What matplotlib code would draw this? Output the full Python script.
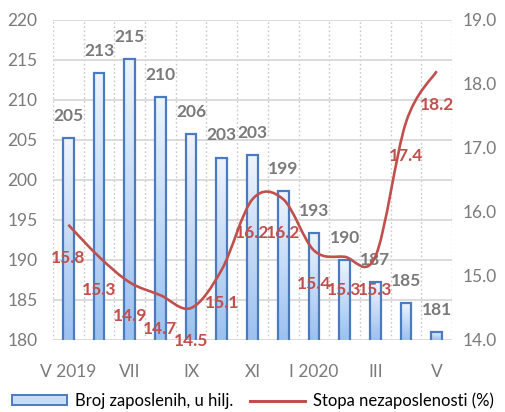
import numpy as np
import matplotlib.pyplot as plt
from matplotlib.path import Path
from matplotlib.patches import PathPatch, Patch
from matplotlib.lines import Line2D
from matplotlib.colors import LinearSegmentedColormap

plt.rcParams['font.family'] = ['Lato', 'DejaVu Sans']

months = ['V 2019', '', 'VII', '', 'IX', '', 'XI', '', 'I 2020', '', 'III', '', 'V']
employed = [205.2, 213.4, 215.1, 210.4, 205.7, 202.8, 203.1,
            198.6, 193.4, 190.0, 187.2, 184.6, 181.0]
unemployment = [15.8, 15.3, 14.9, 14.7, 14.5, 15.1, 16.2,
                16.2, 15.4, 15.3, 15.3, 17.4, 18.2]

BAR_LABEL = 'Broj zaposlenih, u hilj.'
LINE_LABEL = 'Stopa nezaposlenosti (%)'

GRAY = '#7a7a7a'
RED = '#c0504d'
EDGE = '#4a7bbf'


def smooth_path(xs, ys):
    """Excel style smoothed line (Catmull-Rom as cubic Bezier)."""
    pts = np.column_stack([xs, ys]).astype(float)
    n = len(pts)
    verts = [tuple(pts[0])]
    codes = [Path.MOVETO]
    for i in range(n - 1):
        p_prev = pts[max(i - 1, 0)]
        p0, p1 = pts[i], pts[i + 1]
        p_next = pts[min(i + 2, n - 1)]
        c1 = p0 + (p1 - p_prev) / 6
        c2 = p1 - (p_next - p0) / 6
        verts += [tuple(c1), tuple(c2), tuple(p1)]
        codes += [Path.CURVE4] * 3
    return Path(verts, codes)


fig = plt.figure(figsize=(5.06, 4.12), dpi=100)
ax = fig.add_axes([0.1047, 0.1748, 0.7886, 0.7767])
ax2 = ax.twinx()

x = np.arange(len(months))
bars = ax.bar(x, employed, width=0.35, facecolor='none',
              edgecolor=EDGE, linewidth=1.6, zorder=3)

cmap = LinearSegmentedColormap.from_list('barfill', ['#9cc1f0', '#eef4fd'])
grad = np.linspace(0, 1, 64).reshape(-1, 1)
for b in bars:
    x0 = b.get_x()
    w = b.get_width()
    top = b.get_height()
    im = ax.imshow(grad, cmap=cmap, origin='lower', aspect='auto',
                   extent=[x0, x0 + w, 180, top], zorder=2)
    im.set_clip_path(b)

for xi, v in zip(x, employed):
    ax2.annotate(f'{v:.0f}', (xi, (v - 180) / 40 * 5 + 14), xytext=(0, 16),
                 textcoords='offset points', ha='center', va='center',
                 fontsize=12.5, fontweight='bold', color=GRAY)

ax2.add_patch(PathPatch(smooth_path(x, unemployment), facecolor='none',
                        edgecolor=RED, linewidth=1.9, zorder=4))

for xi, v in zip(x, unemployment):
    ax2.annotate(f'{v:.1f}', (xi, v), xytext=(0, -24),
                 textcoords='offset points', ha='center', va='center',
                 fontsize=12.5, fontweight='bold', color=RED, zorder=5)

ax.set_xlim(-0.5, len(months) - 0.5)
ax.set_ylim(180, 220)
ax.set_yticks(np.arange(180, 221, 5))
ax2.set_ylim(14, 19)
ax2.set_yticks(np.arange(14, 19.1, 1))
ax2.set_yticklabels([f'{t:.1f}' for t in np.arange(14, 19.1, 1)])

ax.set_xticks(x)
ax.set_xticklabels(months)
ax.set_xticks(np.arange(-0.5, len(months), 1), minor=True)

ax.set_axisbelow(True)
ax.grid(axis='y', which='major', color='#d9d9d9', linewidth=1.3)
ax.grid(axis='x', which='minor', color='#c8c8c8', linewidth=1.0,
        linestyle=(0, (1.2, 1.8)))

for a in (ax, ax2):
    for s in a.spines.values():
        s.set_visible(False)
    a.tick_params(which='both', length=0, colors=GRAY, labelsize=12.5)
ax.tick_params(axis='y', pad=11)
ax.tick_params(axis='x', pad=17)
ax2.tick_params(axis='y', pad=8)

handles = [
    Patch(facecolor='#c9dcf6', edgecolor=EDGE, linewidth=1.4),
    Line2D([], [], color=RED, linewidth=2.2),
]
fig.legend(handles, [BAR_LABEL, LINE_LABEL], loc='lower center',
           bbox_to_anchor=(0.5, -0.03), ncol=2, frameon=False,
           fontsize=12, handlelength=3.3, handleheight=0.55,
           handletextpad=0.5, columnspacing=1.0)

fig.savefig('out.png', dpi=100)
